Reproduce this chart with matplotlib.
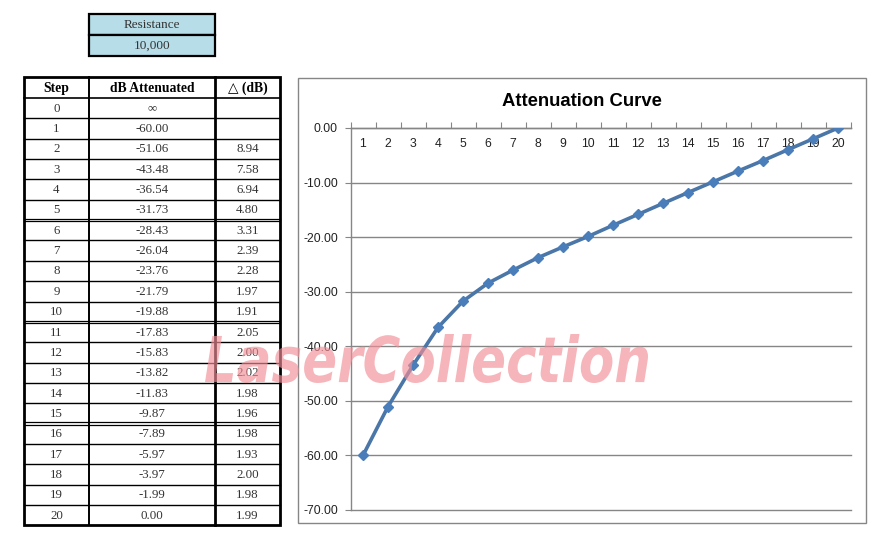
#!/usr/bin/env python3

import matplotlib
matplotlib.use("Agg")
import matplotlib.pyplot as plt
from matplotlib.patches import Rectangle, PathPatch
from matplotlib.textpath import TextPath
from matplotlib.font_manager import FontProperties
from matplotlib.transforms import Affine2D
from matplotlib.ticker import FixedLocator, FormatStrFormatter

# data
resistance = "10,000"
steps = list(range(21))
db_atten = [None, -60.00, -51.06, -43.48, -36.54, -31.73, -28.43, -26.04, -23.76,
            -21.79, -19.88, -17.83, -15.83, -13.82, -11.83, -9.87, -7.89, -5.97,
            -3.97, -1.99, 0.00]
delta_db = [None, None, 8.94, 7.58, 6.94, 4.80, 3.31, 2.39, 2.28, 1.97, 1.91, 2.05,
            2.00, 2.02, 1.98, 1.96, 1.98, 1.93, 2.00, 1.98, 1.99]
headers = ["Step", "dB Attenuated", "\u25b3 (dB)"]
y_ticks = [0, -10, -20, -30, -40, -50, -60, -70]

W, H = 886, 537
fig = plt.figure(figsize=(W / 100, H / 100), dpi=100)

bg = fig.add_axes([0, 0, 1, 1])
bg.set_xlim(0, W)
bg.set_ylim(H, 0)
bg.axis("off")

serif = ["Liberation Serif", "DejaVu Serif", "DejaVu Sans"]
sans = ["Liberation Sans", "DejaVu Sans"]

# resistance box
rx0, rx1 = 89, 215
for i, s in enumerate(["Resistance", resistance]):
    y0 = 14 + i * 21
    bg.add_patch(Rectangle((rx0, y0), rx1 - rx0, 21, facecolor="#b7dde8",
                           edgecolor="black", lw=1.6))
    bg.text((rx0 + rx1) / 2, y0 + 11, s, ha="center", va="center",
            family=serif, fontsize=9.5, color="#333333")

# main table
cols = [24, 89, 215, 280]
top, head_h, row_h = 77, 21, 20.35
rows_top = top + head_h
bottom = rows_top + row_h * len(steps)

for j, h in enumerate(headers):
    bg.text((cols[j] + cols[j + 1]) / 2, top + head_h / 2 + 1, h, ha="center",
            va="center", family=serif, fontsize=9.8, weight="bold", color="black")

bg.plot([cols[0], cols[-1]], [rows_top, rows_top], color="black", lw=1.2)
for i, st in enumerate(steps):
    yc = rows_top + row_h * (i + 0.5)
    vals = [str(st),
            "\u221e" if db_atten[i] is None else f"{db_atten[i]:.2f}",
            "" if delta_db[i] is None else f"{delta_db[i]:.2f}"]
    for j, v in enumerate(vals):
        bg.text((cols[j] + cols[j + 1]) / 2, yc + 0.5, v, ha="center", va="center",
                family=serif, fontsize=9.3, color="#333333")
    yb = rows_top + row_h * (i + 1)
    if i < len(steps) - 1:
        if st in (5, 10, 15):
            bg.plot([cols[0], cols[-1]], [yb - 1.3, yb - 1.3], color="black", lw=0.9)
            bg.plot([cols[0], cols[-1]], [yb + 1.3, yb + 1.3], color="black", lw=0.9)
        else:
            bg.plot([cols[0], cols[-1]], [yb, yb], color="black", lw=1.0)

for x, lw in zip(cols[1:-1], [1.4, 2.0]):
    bg.plot([x, x], [top, bottom], color="black", lw=lw)
bg.add_patch(Rectangle((cols[0], top), cols[-1] - cols[0], bottom - top,
                       fill=False, edgecolor="black", lw=2.0))

# chart frame and title
bg.add_patch(Rectangle((298, 78), 866 - 298, 523 - 78, fill=False,
                       edgecolor="#868686", lw=1.0))
bg.text(582, 101, "Attenuation Curve", ha="center", va="center",
        family=sans, fontsize=13.3, weight="bold")

# chart axes
ax = fig.add_axes([350.5 / W, 1 - 510 / H, 500 / W, (510 - 128) / H])
ax.set_xlim(0.5, 20.5)
ax.set_ylim(-70, 0)
ax.plot(steps[1:], db_atten[1:], color="#4a76a8", lw=2.6, marker="D",
        markersize=5.5, markerfacecolor="#4a7ebb", markeredgecolor="#4a7ebb",
        solid_joinstyle="round", zorder=3)

grid_col = "#868686"
for s in ["right", "bottom"]:
    ax.spines[s].set_visible(False)
for s in ["top", "left"]:
    ax.spines[s].set_color(grid_col)
    ax.spines[s].set_linewidth(1.0)

ax.set_yticks(y_ticks)
ax.yaxis.set_major_formatter(FormatStrFormatter("%.2f"))
ax.yaxis.grid(True, color=grid_col, lw=1.0)
for gl in ax.get_ygridlines():
    gl.set_clip_on(False)
ax.tick_params(axis="y", length=4, width=0.8, color=grid_col, labelsize=8.8,
               pad=5, labelcolor="#222222")

ax.xaxis.tick_top()
ax.set_xticks(steps[1:])
ax.xaxis.set_minor_locator(FixedLocator([s + 0.5 for s in range(0, 21)]))
ax.tick_params(axis="x", which="major", length=0, pad=-15.5, labelsize=8.8,
               labelcolor="#222222")
ax.tick_params(axis="x", which="minor", length=4, width=0.8, color=grid_col,
               direction="out", top=True)
for lab in ax.get_xticklabels() + ax.get_yticklabels():
    lab.set_family(sans)

# watermark
wm = fig.add_axes([0, 0, 1, 1], zorder=10)
wm.set_xlim(0, W)
wm.set_ylim(H, 0)
wm.axis("off")
tp = TextPath((0, 0), "LaserCollection",
              prop=FontProperties(family="DejaVu Sans", weight="bold", style="oblique"))
ext = tp.get_extents()
x0, x1, y0, y1 = 205, 648, 334, 383
tr = (Affine2D().translate(-ext.x0, -ext.y0)
      .scale((x1 - x0) / ext.width, -(y1 - y0) / ext.height)
      .translate(x0, y1))
wm.add_patch(PathPatch(tr.transform_path(tp), facecolor="#f28e96",
                       edgecolor="none", alpha=0.65))

fig.savefig("out.png", dpi=100)
